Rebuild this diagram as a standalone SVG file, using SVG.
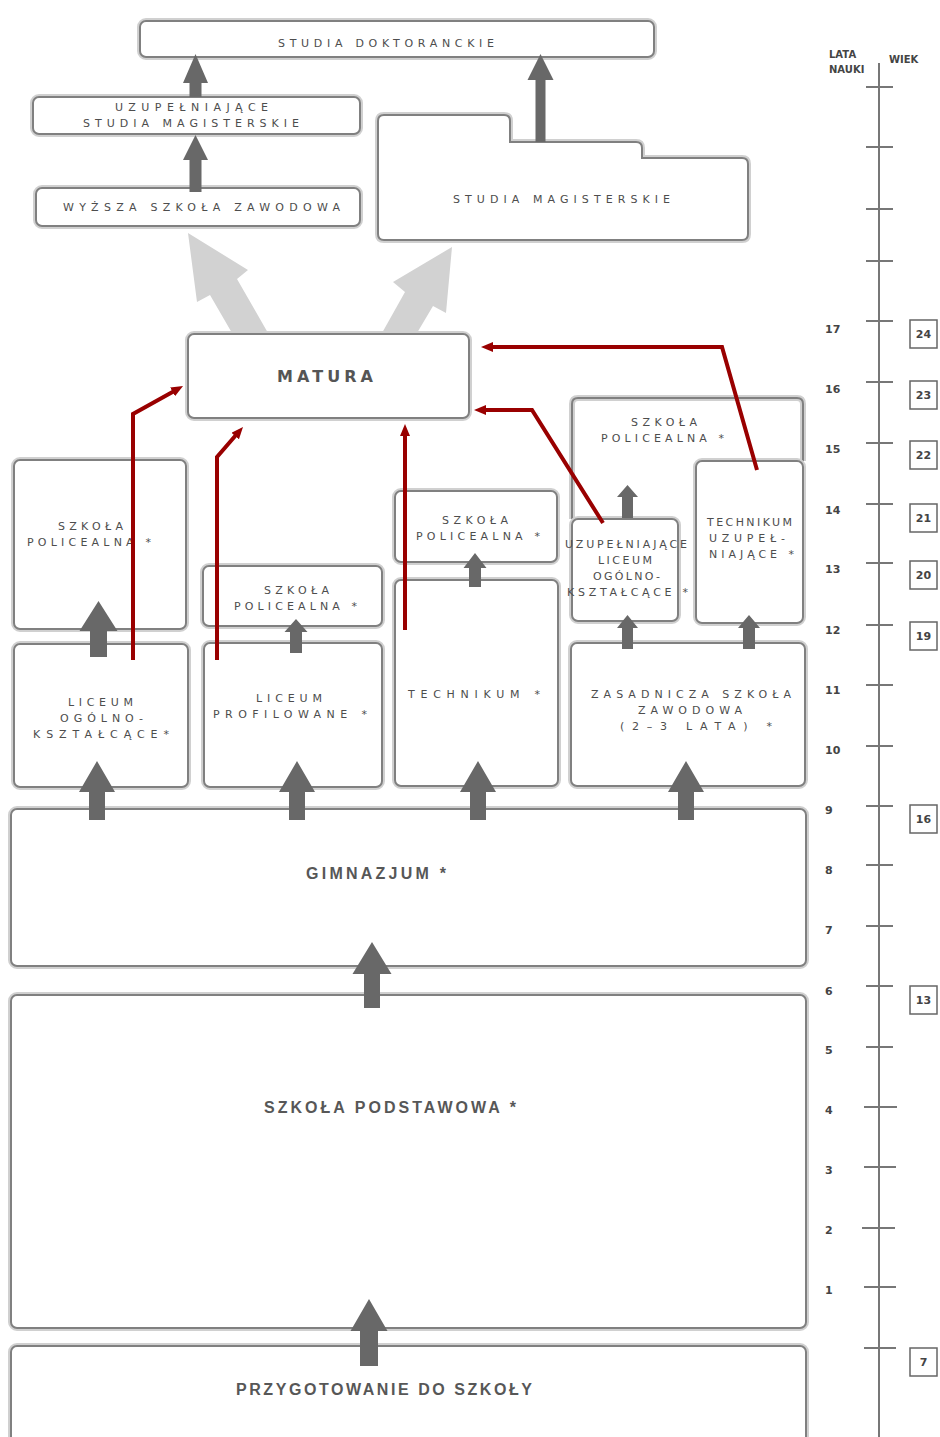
<svg xmlns="http://www.w3.org/2000/svg" width="940" height="1437" viewBox="0 0 940 1437">
<style>
.glow{fill:none;stroke:#d0d0d0;stroke-width:6}
.box{fill:#fff;stroke:#808080;stroke-width:2}
.open{fill:none;stroke:#808080;stroke-width:2}
.t{font-family:"DejaVu Sans",sans-serif;font-size:11px;fill:#4d4d4d}
.tb{font-family:"Liberation Sans",sans-serif;font-weight:bold;font-size:16px;fill:#575757}
.tm{font-family:"DejaVu Sans",sans-serif;font-weight:bold;font-size:16px;fill:#555}
.arr{fill:#686868}
.lite{fill:#d2d2d2}
.red{fill:none;stroke:#990000;stroke-width:4;stroke-linejoin:miter}
.axis{stroke:#777;stroke-width:2;fill:none}
.num{font-family:"DejaVu Sans",sans-serif;font-weight:bold;font-size:11px;fill:#444}
.hdr{font-family:"DejaVu Sans",sans-serif;font-weight:bold;font-size:10px;fill:#444}
.age{fill:#fff;stroke:#666;stroke-width:1.5}
</style>
<defs>
<marker id="rh" viewBox="0 0 12 10" markerWidth="12" markerHeight="10" refX="3" refY="5" orient="auto" markerUnits="userSpaceOnUse">
<path d="M0,0 L12,5 L0,10 z" fill="#990000"/>
</marker>
</defs>
<rect width="940" height="1437" fill="#fff"/>

<g id="connectors-back">
<polygon class="lite" points="188,233 248,270 237,279 268,333 232,333 210,295 197,302"/>
<polygon class="lite" points="452,247 446,313 433,306 417,333 382,333 405,292 393,282"/>
</g>

<g id="node-doktoranckie">
<rect class="glow" x="140" y="21" width="514" height="36" rx="6"/>
<rect class="box" x="140" y="21" width="514" height="36" rx="6"/>
<text class="t" x="278" y="47" textLength="216" lengthAdjust="spacing">STUDIA DOKTORANCKIE</text>
</g>
<g id="node-uzup-magisterskie">
<rect class="glow" x="33" y="97" width="327" height="37" rx="6"/>
<rect class="box" x="33" y="97" width="327" height="37" rx="6"/>
<text class="t" x="115" y="111" textLength="153" lengthAdjust="spacing">UZUPEŁNIAJĄCE</text>
<text class="t" x="83" y="127" textLength="216" lengthAdjust="spacing">STUDIA MAGISTERSKIE</text>
</g>
<g id="node-wyzsza">
<rect class="glow" x="36" y="188" width="324" height="38" rx="6"/>
<rect class="box" x="36" y="188" width="324" height="38" rx="6"/>
<text class="t" x="63" y="211" textLength="277" lengthAdjust="spacing">WYŻSZA SZKOŁA ZAWODOWA</text>
</g>
<g id="node-magisterskie">
<path class="glow" d="M378,121 Q378,115 384,115 H504 Q510,115 510,121 V142 H636 Q642,142 642,148 V158 H742 Q748,158 748,164 V234 Q748,240 742,240 H384 Q378,240 378,234 Z"/>
<path class="box" d="M378,121 Q378,115 384,115 H504 Q510,115 510,121 V142 H636 Q642,142 642,148 V158 H742 Q748,158 748,164 V234 Q748,240 742,240 H384 Q378,240 378,234 Z"/>
<text class="t" x="453" y="203" textLength="217" lengthAdjust="spacing">STUDIA MAGISTERSKIE</text>
</g>
<g id="node-matura">
<rect class="glow" x="188" y="334" width="281" height="84" rx="6"/>
<rect class="box" x="188" y="334" width="281" height="84" rx="6"/>
<text class="tm" x="277" y="382" textLength="96" lengthAdjust="spacing">MATURA</text>
</g>
<g id="node-policealna-1">
<rect class="glow" x="14" y="460" width="172" height="169" rx="6"/>
<rect class="box" x="14" y="460" width="172" height="169" rx="6"/>
<text class="t" x="58" y="530" textLength="65" lengthAdjust="spacing">SZKOŁA</text>
<text class="t" x="27" y="546" textLength="124" lengthAdjust="spacing">POLICEALNA *</text>
</g>
<g id="node-policealna-2">
<rect class="glow" x="203" y="566" width="179" height="60" rx="6"/>
<rect class="box" x="203" y="566" width="179" height="60" rx="6"/>
<text class="t" x="264" y="594" textLength="65" lengthAdjust="spacing">SZKOŁA</text>
<text class="t" x="234" y="610" textLength="123" lengthAdjust="spacing">POLICEALNA *</text>
</g>
<g id="node-policealna-3">
<rect class="glow" x="395" y="491" width="162" height="71" rx="6"/>
<rect class="box" x="395" y="491" width="162" height="71" rx="6"/>
<text class="t" x="442" y="524" textLength="66" lengthAdjust="spacing">SZKOŁA</text>
<text class="t" x="416" y="540" textLength="124" lengthAdjust="spacing">POLICEALNA *</text>
</g>
<g id="node-technikum">
<rect class="glow" x="395" y="580" width="163" height="206" rx="6"/>
<rect class="box" x="395" y="580" width="163" height="206" rx="6"/>
<text class="t" x="408" y="698" textLength="132" lengthAdjust="spacing">TECHNIKUM *</text>
</g>
<g id="node-policealna-4">
<path class="glow" d="M572,519 V404 Q572,398 578,398 H797 Q803,398 803,404 V461"/>
<path class="open" d="M572,519 V404 Q572,398 578,398 H797 Q803,398 803,404 V461"/>
<text class="t" x="631" y="426" textLength="66" lengthAdjust="spacing">SZKOŁA</text>
<text class="t" x="601" y="442" textLength="123" lengthAdjust="spacing">POLICEALNA *</text>
</g>
<g id="node-uzup-liceum">
<rect class="glow" x="572" y="519" width="106" height="102" rx="6"/>
<rect class="box" x="572" y="519" width="106" height="102" rx="6"/>
<text class="t" x="565" y="548" textLength="122" lengthAdjust="spacing">UZUPEŁNIAJĄCE</text>
<text class="t" x="598" y="564" textLength="54" lengthAdjust="spacing">LICEUM</text>
<text class="t" x="593" y="580" textLength="67" lengthAdjust="spacing">OGÓLNO-</text>
<text class="t" x="567" y="596" textLength="121" lengthAdjust="spacing">KSZTAŁCĄCE *</text>
</g>
<g id="node-technikum-uzup">
<rect class="glow" x="696" y="461" width="107" height="162" rx="6"/>
<rect class="box" x="696" y="461" width="107" height="162" rx="6"/>
<text class="t" x="707" y="526" textLength="85" lengthAdjust="spacing">TECHNIKUM</text>
<text class="t" x="709" y="542" textLength="76" lengthAdjust="spacing">UZUPEŁ-</text>
<text class="t" x="709" y="558" textLength="85" lengthAdjust="spacing">NIAJĄCE *</text>
</g>
<g id="node-liceum-ogolno">
<rect class="glow" x="14" y="644" width="174" height="143" rx="6"/>
<rect class="box" x="14" y="644" width="174" height="143" rx="6"/>
<text class="t" x="68" y="706" textLength="65" lengthAdjust="spacing">LICEUM</text>
<text class="t" x="60" y="722" textLength="83" lengthAdjust="spacing">OGÓLNO-</text>
<text class="t" x="33" y="738" textLength="136" lengthAdjust="spacing">KSZTAŁCĄCE*</text>
</g>
<g id="node-liceum-profilowane">
<rect class="glow" x="204" y="643" width="178" height="144" rx="6"/>
<rect class="box" x="204" y="643" width="178" height="144" rx="6"/>
<text class="t" x="256" y="702" textLength="66" lengthAdjust="spacing">LICEUM</text>
<text class="t" x="213" y="718" textLength="154" lengthAdjust="spacing">PROFILOWANE *</text>
</g>
<g id="node-zasadnicza">
<rect class="glow" x="571" y="643" width="234" height="143" rx="6"/>
<rect class="box" x="571" y="643" width="234" height="143" rx="6"/>
<text class="t" x="591" y="698" textLength="200" lengthAdjust="spacing">ZASADNICZA SZKOŁA</text>
<text class="t" x="638" y="714" textLength="104" lengthAdjust="spacing">ZAWODOWA</text>
<text class="t" x="620" y="730" textLength="152" lengthAdjust="spacing">(2–3 LATA) *</text>
</g>
<g id="node-gimnazjum">
<rect class="glow" x="11" y="809" width="795" height="157" rx="6"/>
<rect class="box" x="11" y="809" width="795" height="157" rx="6"/>
<text class="tb" x="306" y="879" textLength="140" lengthAdjust="spacing">GIMNAZJUM *</text>
</g>
<g id="node-podstawowa">
<rect class="glow" x="11" y="995" width="795" height="333" rx="6"/>
<rect class="box" x="11" y="995" width="795" height="333" rx="6"/>
<text class="tb" x="264" y="1113" textLength="252" lengthAdjust="spacing">SZKOŁA PODSTAWOWA *</text>
</g>
<g id="node-przygotowanie">
<rect class="glow" x="11" y="1346" width="795" height="100" rx="6"/>
<rect class="box" x="11" y="1346" width="795" height="100" rx="6"/>
<text class="tb" x="236" y="1395" textLength="296" lengthAdjust="spacing">PRZYGOTOWANIE DO SZKOŁY</text>
</g>

<g id="connectors">
<polygon class="arr" points="195.5,135 208,160 201.5,160 201.5,192 189.5,192 189.5,160 183,160"/>
<polygon class="arr" points="195.5,54 208,83 201.5,83 201.5,97 189.5,97 189.5,83 183,83"/>
<polygon class="arr" points="540.5,54 553.5,80 545.5,80 545.5,142 535.5,142 535.5,80 527.5,80"/>
<polygon class="arr" points="98.5,601 117.5,631 107,631 107,657 90,657 90,631 79.5,631"/>
<polygon class="arr" points="296,619 307.5,632 302,632 302,653 290,653 290,632 284.5,632"/>
<polygon class="arr" points="475,553 486.5,568 481,568 481,587 469,587 469,568 463.5,568"/>
<polygon class="arr" points="627.5,485 638,497 633,497 633,518 622,518 622,497 617,497"/>
<polygon class="arr" points="627.5,615 638,628 633,628 633,649 622,649 622,628 617,628"/>
<polygon class="arr" points="749,615 760,628 755,628 755,649 743,649 743,628 738,628"/>
<polygon class="arr" points="97,761 115,792 105,792 105,820 89,820 89,792 79,792"/>
<polygon class="arr" points="297,761 315,792 305,792 305,820 289,820 289,792 279,792"/>
<polygon class="arr" points="478,761 496,792 486,792 486,820 470,820 470,792 460,792"/>
<polygon class="arr" points="686,761 704,792 694,792 694,820 678,820 678,792 668,792"/>
<polygon class="arr" points="372,942 391.5,974 380,974 380,1008 364,1008 364,974 352.5,974"/>
<polygon class="arr" points="369,1299 387.5,1331 378,1331 378,1366 360,1366 360,1331 350.5,1331"/>
<polyline class="red" marker-end="url(#rh)" points="133,660 133,414 175.2,390.4"/>
<polyline class="red" marker-end="url(#rh)" points="217,660 217,457 237.1,433.8"/>
<polyline class="red" marker-end="url(#rh)" points="405,630 405,433"/>
<polyline class="red" marker-end="url(#rh)" points="603,523 532,410 483,410"/>
<polyline class="red" marker-end="url(#rh)" points="757,470 722,347 490,347"/>
</g>

<g id="scale">
<text class="hdr" x="829" y="58">LATA</text>
<text class="hdr" x="829" y="73">NAUKI</text>
<text class="hdr" x="889" y="63">WIEK</text>
<line class="axis" x1="879" y1="63" x2="879" y2="1437"/>
<path class="axis" d="M866,87H893M866,147H893M866,209H893M866,261H893M866,321H893M866,382H893M866,443H893M866,504H893M866,563H893M866,625H893M866,685H893M866,746H893M866,806H893M866,865H893M866,926H893M866,986H893M866,1047H893M864,1107H897M864,1167H896M862,1228H895M864,1287H896M864,1348H896"/>
<text class="num" x="825" y="333">17</text>
<text class="num" x="825" y="393">16</text>
<text class="num" x="825" y="453">15</text>
<text class="num" x="825" y="514">14</text>
<text class="num" x="825" y="573">13</text>
<text class="num" x="825" y="634">12</text>
<text class="num" x="825" y="694">11</text>
<text class="num" x="825" y="754">10</text>
<text class="num" x="825" y="814">9</text>
<text class="num" x="825" y="874">8</text>
<text class="num" x="825" y="934">7</text>
<text class="num" x="825" y="995">6</text>
<text class="num" x="825" y="1054">5</text>
<text class="num" x="825" y="1114">4</text>
<text class="num" x="825" y="1174">3</text>
<text class="num" x="825" y="1234">2</text>
<text class="num" x="825" y="1294">1</text>
<g id="age-24"><rect class="age" x="910" y="320" width="27" height="28"/><text class="num" x="923.5" y="338" text-anchor="middle">24</text></g>
<g id="age-23"><rect class="age" x="910" y="381" width="27" height="28"/><text class="num" x="923.5" y="399" text-anchor="middle">23</text></g>
<g id="age-22"><rect class="age" x="910" y="441" width="27" height="28"/><text class="num" x="923.5" y="459" text-anchor="middle">22</text></g>
<g id="age-21"><rect class="age" x="910" y="504" width="27" height="28"/><text class="num" x="923.5" y="522" text-anchor="middle">21</text></g>
<g id="age-20"><rect class="age" x="910" y="561" width="27" height="28"/><text class="num" x="923.5" y="579" text-anchor="middle">20</text></g>
<g id="age-19"><rect class="age" x="910" y="622" width="27" height="28"/><text class="num" x="923.5" y="640" text-anchor="middle">19</text></g>
<g id="age-16"><rect class="age" x="910" y="805" width="27" height="28"/><text class="num" x="923.5" y="823" text-anchor="middle">16</text></g>
<g id="age-13"><rect class="age" x="910" y="986" width="27" height="28"/><text class="num" x="923.5" y="1004" text-anchor="middle">13</text></g>
<g id="age-7"><rect class="age" x="910" y="1348" width="27" height="28"/><text class="num" x="923.5" y="1366" text-anchor="middle">7</text></g>
</g>
</svg>
